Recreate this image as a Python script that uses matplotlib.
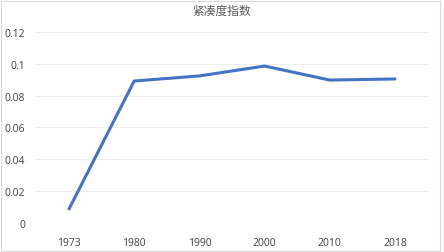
import matplotlib
matplotlib.use("Agg")
import matplotlib.pyplot as plt
from matplotlib.patches import Rectangle

plt.rcParams['font.family'] = ['Noto Sans CJK SC', 'DejaVu Sans']

years = ["1973", "1980", "1990", "2000", "2010", "2018"]
values = [0.0088, 0.0892, 0.0924, 0.0986, 0.0898, 0.0905]
yticks = [0, 0.02, 0.04, 0.06, 0.08, 0.1, 0.12]
ytick_labels = ["0", "0.02", "0.04", "0.06", "0.08", "0.1", "0.12"]
title = "紧凑度指数"

fig = plt.figure(figsize=(4.44, 2.53), dpi=100)
ax = fig.add_axes([0.082, 0.1146, 0.881, 0.755])
x = list(range(len(years)))
ax.plot(x, values, color="#4472C4", linewidth=2.2, solid_capstyle="round", solid_joinstyle="round")
ax.set_xlim(-0.5, len(years) - 0.5)
ax.set_ylim(0, 0.12)
ax.set_yticks(yticks)
ax.set_yticklabels(ytick_labels)
ax.set_xticks(x)
ax.set_xticklabels(years)
ax.grid(axis="y", color="#EDEDED", linewidth=0.8)
ax.set_axisbelow(True)
for s in ax.spines.values():
    s.set_visible(False)
ax.tick_params(axis="both", length=0, labelsize=7.5, colors="#404040", labelfontfamily="Open Sans")
ax.tick_params(axis="x", pad=10)
ax.tick_params(axis="y", pad=8)
fig.text(0.5, 0.955, title, ha="center", va="center", fontsize=8.5, color="#595959")
fig.patches.append(Rectangle((0.002, 0.004), 0.99, 0.99, transform=fig.transFigure,
                             fill=False, edgecolor="#D9D9D9", linewidth=0.8))
fig.savefig("out.png", dpi=100)
